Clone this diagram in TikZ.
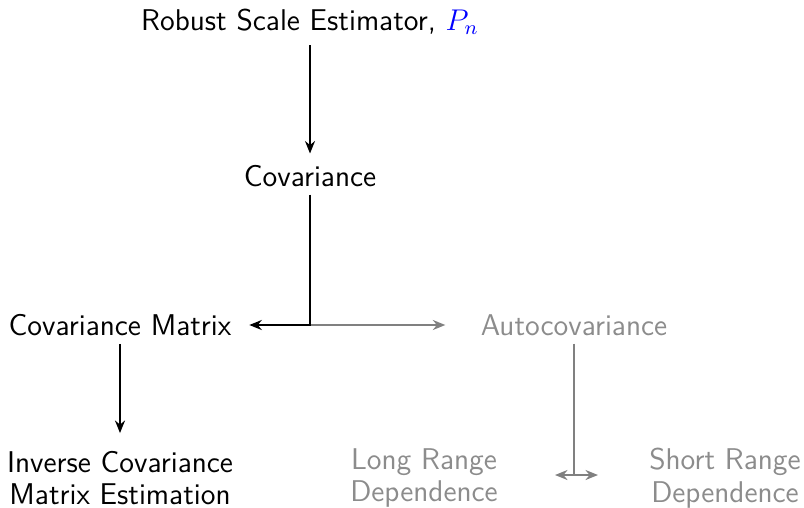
\documentclass[tikz,border=0pt]{standalone}
\usepackage{amsmath}
\usepackage{amssymb}
\usepackage{tikz}
\usetikzlibrary{arrows.meta, positioning}

\tikzset{
	topic/.style={font=\fontsize{12pt}{13pt}\selectfont\sffamily, align=center, inner sep=3pt},
	fadedtopic/.style={topic, text=gray!90},
	link/.style={-{Stealth[length=5pt, width=4pt]}, thick},
	fadedlink/.style={link, gray},
}

\begin{document}
\begin{tikzpicture}[x=0.4pt, y=-0.4pt]
	\useasboundingbox (0,0) rectangle (804,507);
	\node[topic] (rse) at (310,22) {Robust Scale Estimator, \textcolor{blue}{$P_n$}};
	\node[topic] (cov) at (310,176) {Covariance};
	\node[topic] (covmat) at (120,325) {Covariance Matrix};
	\node[fadedtopic] (autocov) at (574,325) {Autocovariance};
	\node[topic] (invcov) at (120,478) {Inverse Covariance\\Matrix Estimation};
	\node[fadedtopic] (longdep) at (424,478) {Long Range\\Dependence};
	\node[fadedtopic] (shortdep) at (725,478) {Short Range\\Dependence};
	\coordinate (split) at (310,325);
	\coordinate (fork) at (574,475);
	\coordinate (forkl) at (555,475);
	\coordinate (forkr) at (598,475);

	\draw[link, shorten <=1pt, shorten >=1.5pt] (rse) -- (cov);
	\draw[fadedlink, shorten >=11pt] (split) -- (autocov);
	\draw[link, shorten >=4pt] (cov) |- (covmat);
	\draw[link, shorten >=4pt] (covmat) -- (invcov);
	\draw[gray, thick] (autocov) -- (fork);
	\draw[fadedlink] (fork) -- (forkl);
	\draw[fadedlink] (fork) -- (forkr);
\end{tikzpicture}
\end{document}
